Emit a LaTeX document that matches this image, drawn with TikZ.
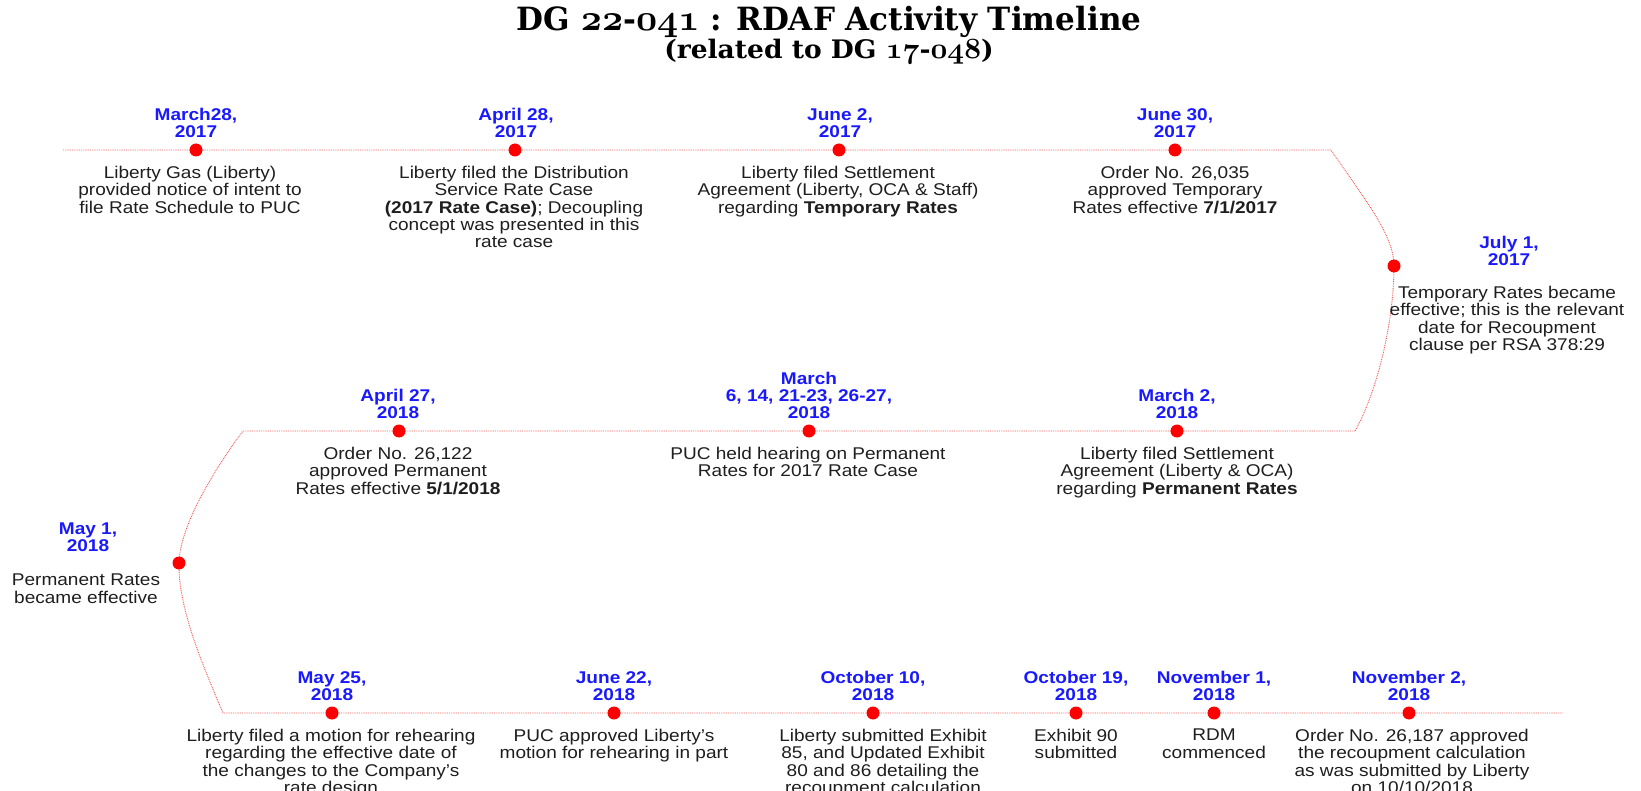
\RequirePackage{fix-cm}
\documentclass[tikz,border=0pt]{standalone}
\usepackage{fontspec}
\usetikzlibrary{backgrounds}
\newfontfamily\bodyfont[FakeStretch=1.12]{Liberation Sans}
\newfontfamily\titlefont[FakeStretch=0.97]{DejaVu Serif}
\newfontfamily\subtitlefont[FakeStretch=1.04]{DejaVu Serif}
\newcommand\osn[1]{\scalebox{1.15}{\boldmath$\mathnormal{#1}$}}
\definecolor{dateblue}{RGB}{25,25,255}
\definecolor{tlred}{RGB}{240,90,90}
\definecolor{dotred}{RGB}{255,0,0}
\definecolor{txt}{RGB}{30,30,30}
\tikzset{
  dot/.style={circle,fill=dotred,inner sep=0pt,minimum size=13pt},
  tline/.style={draw=tlred,line width=0.9pt,dash pattern=on 0.9pt off 0.9pt},
  datelbl/.style={anchor=south,align=center,inner sep=0pt,text=dateblue,
    font=\bodyfont\bfseries\fontsize{17}{17.3}\selectfont,
    execute at begin node=\strut,execute at end node=\strut},
  desc/.style={anchor=north,align=center,inner sep=0pt,text=txt,
    font=\bodyfont\fontsize{17}{17.3}\selectfont,
    execute at begin node=\strut,execute at end node=\strut},
  ttl/.style={inner sep=0pt,text=black,anchor=base}
}
\begin{document}
\begin{tikzpicture}[x=1pt,y=1pt]
\useasboundingbox (0,0) rectangle (1641,-791);
% title
\node[ttl,font=\titlefont\bfseries\fontsize{32}{33}\selectfont] (t1) at (829,-31)
  {DG \osn{22}-\osn{041} : RDAF Activity Timeline};
\node[ttl,font=\subtitlefont\bfseries\fontsize{25.5}{26}\selectfont] (t2) at (829,-59)
  {(related to DG \osn{17}-\osn{048})};
% dots
\node[dot] (d1) at (196,-150) {};
\node[dot] (d2) at (515,-150) {};
\node[dot] (d3) at (839,-150) {};
\node[dot] (d4) at (1175,-150) {};
\node[dot] (d5) at (1394,-266) {};
\node[dot] (d6) at (1177,-431) {};
\node[dot] (d7) at (809,-431) {};
\node[dot] (d8) at (399,-431) {};
\node[dot] (d9) at (179,-563) {};
\node[dot] (d10) at (332,-713) {};
\node[dot] (d11) at (614,-713) {};
\node[dot] (d12) at (873,-713) {};
\node[dot] (d13) at (1076,-713) {};
\node[dot] (d14) at (1214,-713) {};
\node[dot] (d15) at (1409,-713) {};
\coordinate (s1) at (63,-150);
\coordinate (e1) at (1331,-150);
\coordinate (e2) at (1355,-431);
\coordinate (s2) at (243,-431);
\coordinate (s3) at (223,-713);
\coordinate (e3) at (1563,-713);
\begin{scope}[on background layer]
\draw[tline] (s1) -- (d1.center) -- (d4.center) -- (e1)
  .. controls (1365,-200) and (1394,-235) .. (d5.center)
  .. controls (1394,-320) and (1378,-390) .. (e2)
  -- (d6.center) -- (d8.center) -- (s2)
  .. controls (225,-455) and (180,-520) .. (d9.center)
  .. controls (178,-610) and (205,-670) .. (s3)
  -- (d10.center) -- (d15.center) -- (e3);
\end{scope}
% row 1
\node[datelbl] (a1) at (196,-143) {March28,\\2017};
\node[desc] (b1) at (190,-166) {Liberty Gas (Liberty)\\provided notice of intent to\\file Rate Schedule to PUC};
\node[datelbl] (a2) at (516,-143) {April 28,\\2017};
\node[desc] (b2) at (514,-166) {Liberty filed the Distribution\\Service Rate Case\\\textbf{(2017 Rate Case)}; Decoupling\\concept was presented in this\\rate case};
\node[datelbl] (a3) at (840,-143) {June 2,\\2017};
\node[desc] (b3) at (838,-166) {Liberty filed Settlement\\Agreement (Liberty, OCA \& Staff)\\regarding \textbf{Temporary Rates}};
\node[datelbl] (a4) at (1175,-143) {June 30,\\2017};
\node[desc] (b4) at (1175,-166) {Order No. 26,035\\approved Temporary\\Rates effective \textbf{7/1/2017}};
\node[datelbl] (a5) at (1509,-271) {July 1,\\2017};
\node[desc] (b5) at (1507,-286) {Temporary Rates became\\effective; this is the relevant\\date for Recoupment\\clause per RSA 378:29};
% row 2
\node[datelbl] (a6) at (1177,-424) {March 2,\\2018};
\node[desc] (b6) at (1177,-447) {Liberty filed Settlement\\Agreement (Liberty \& OCA)\\regarding \textbf{Permanent Rates}};
\node[datelbl] (a7) at (809,-424) {March\\6, 14, 21-23, 26-27,\\2018};
\node[desc] (b7) at (808,-447) {PUC held hearing on Permanent\\Rates for 2017 Rate Case};
\node[datelbl] (a8) at (398,-424) {April 27,\\2018};
\node[desc] (b8) at (398,-447) {Order No. 26,122\\approved Permanent\\Rates effective \textbf{5/1/2018}};
\node[datelbl] (a9) at (88,-557) {May 1,\\2018};
\node[desc] (b9) at (86,-574) {Permanent Rates\\became effective};
% row 3
\node[datelbl] (a10) at (332,-706) {May 25,\\2018};
\node[desc] (b10) at (331,-729) {Liberty filed a motion for rehearing\\regarding the effective date of\\the changes to the Company’s\\rate design};
\node[datelbl] (a11) at (614,-706) {June 22,\\2018};
\node[desc] (b11) at (614,-729) {PUC approved Liberty’s\\motion for rehearing in part};
\node[datelbl] (a12) at (873,-706) {October 10,\\2018};
\node[desc] (b12) at (883,-729) {Liberty submitted Exhibit\\85, and Updated Exhibit\\80 and 86 detailing the\\recoupment calculation};
\node[datelbl] (a13) at (1076,-706) {October 19,\\2018};
\node[desc] (b13) at (1076,-729) {Exhibit 90\\submitted};
\node[datelbl] (a14) at (1214,-706) {November 1,\\2018};
\node[desc] (b14) at (1214,-729) {RDM\\commenced};
\node[datelbl] (a15) at (1409,-706) {November 2,\\2018};
\node[desc] (b15) at (1412,-729) {Order No. 26,187 approved\\the recoupment calculation\\as was submitted by Liberty\\on 10/10/2018};
\end{tikzpicture}
\end{document}
